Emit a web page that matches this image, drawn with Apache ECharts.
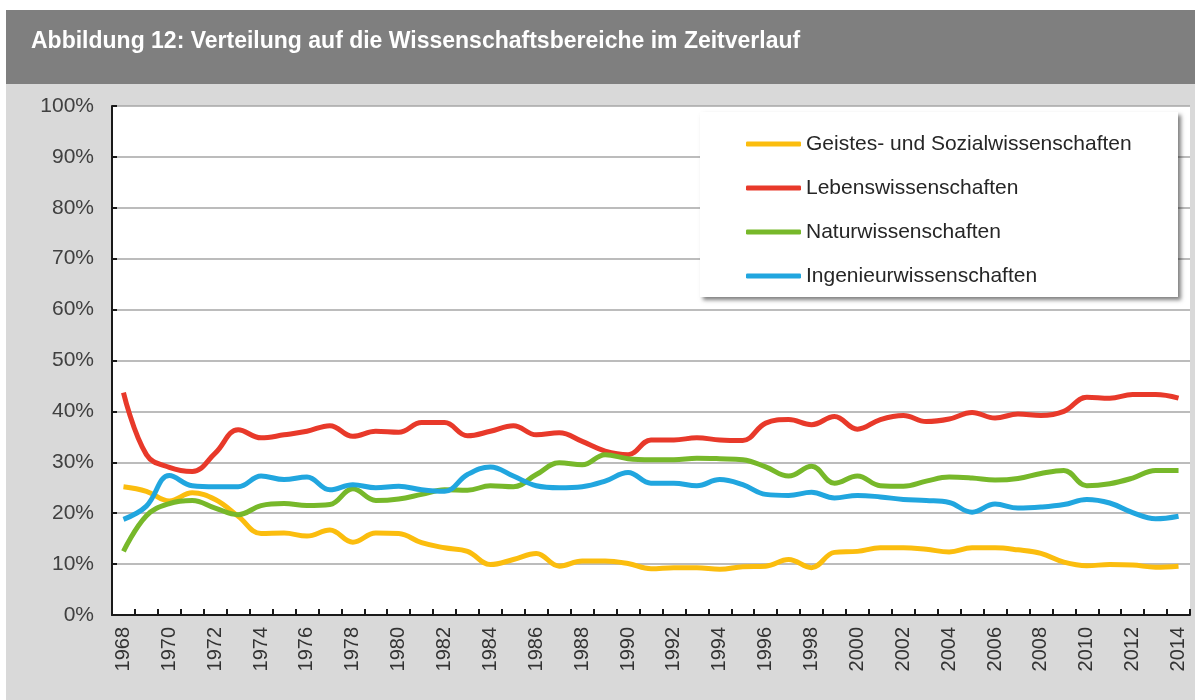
<!DOCTYPE html>
<html>
<head>
<meta charset="utf-8">
<script src="https://cdn.jsdelivr.net/npm/echarts@6/dist/echarts.min.js"></script>
<style>
html,body{margin:0;padding:0;background:#ffffff;}
#chart{width:1195px;height:700px;}
</style>
</head>
<body>
<div id="chart"></div>
<script>
const years = [];
for (let y = 1968; y <= 2014; y++) years.push(String(y));

const seriesNames = [
  'Geistes- und Sozialwissenschaften',
  'Lebenswissenschaften',
  'Naturwissenschaften',
  'Ingenieurwissenschaften'
];

const geistes = [25.2, 24.3, 22.4, 24.0, 22.7, 19.4, 16.0, 16.1, 15.5, 16.7, 14.3, 16.1,
  16.0, 14.2, 13.2, 12.5, 9.9, 10.9, 12.1, 9.6, 10.6, 10.6, 10.1, 9.1,
  9.3, 9.3, 9.0, 9.5, 9.6, 10.9, 9.3, 12.3, 12.5, 13.2, 13.2,
  12.9, 12.4, 13.2, 13.2, 12.8, 12.1, 10.4, 9.7, 9.9, 9.8, 9.4, 9.6];

const lebens = [43.7, 31.5, 29.0, 28.2, 31.8, 36.4, 34.8, 35.4, 36.1, 37.2, 35.1, 36.1,
  35.9, 37.8, 37.8, 35.2, 36.1, 37.2, 35.4, 35.8, 34.1, 32.2, 31.5, 34.4,
  34.4, 34.8, 34.4, 34.3, 37.7, 38.4, 37.4, 39.0, 36.5, 38.4, 39.2,
  38.0, 38.5, 39.8, 38.7, 39.5, 39.2, 40.0, 42.8, 42.6, 43.3, 43.3, 42.6];

const natur = [12.5, 19.5, 21.9, 22.5, 21.0, 19.7, 21.5, 21.9, 21.5, 21.7, 24.8, 22.5,
  22.8, 23.7, 24.6, 24.5, 25.4, 25.2, 27.6, 29.9, 29.5, 31.5, 30.7, 30.5,
  30.5, 30.8, 30.7, 30.5, 29.1, 27.3, 29.2, 25.9, 27.3, 25.4, 25.3,
  26.3, 27.1, 26.9, 26.5, 26.8, 27.8, 28.4, 25.4, 25.8, 26.9, 28.4, 28.4];

const ingenieur = [18.8, 21.4, 27.4, 25.4, 25.2, 25.2, 27.3, 26.6, 27.1, 24.6, 25.6, 25.0,
  25.3, 24.6, 24.3, 27.6, 29.1, 27.3, 25.4, 25.0, 25.2, 26.3, 28.0, 25.9,
  25.9, 25.4, 26.6, 25.6, 23.7, 23.5, 24.1, 23.0, 23.5, 23.2, 22.7,
  22.5, 22.1, 20.2, 21.8, 21.0, 21.2, 21.7, 22.7, 22.0, 20.1, 18.9, 19.4];

const colors = ['#fbbd0e', '#e8392a', '#77b82a', '#21a6df'];
const FONT = "'Liberation Sans', Arial, sans-serif";

const chart = echarts.init(document.getElementById('chart'), null, {renderer: 'canvas'});

const dataSets = [geistes, lebens, natur, ingenieur];

chart.setOption({
  animation: false,
  backgroundColor: '#ffffff',
  title: {
    text: 'Abbildung 12: Verteilung auf die Wissenschaftsbereiche im Zeitverlauf',
    left: 26,
    top: 25,
    textStyle: {color: '#ffffff', fontSize: 23, fontWeight: 'bold', fontFamily: FONT}
  },
  graphic: [
    {type: 'rect', z: -10, shape: {x: 6, y: 10, width: 1189, height: 74}, style: {fill: '#7f7f7f'}},
    {type: 'rect', z: -10, shape: {x: 6, y: 84, width: 1189, height: 616}, style: {fill: '#d9d9d9'}},
    {type: 'rect', z: 10, shape: {x: 700, y: 112, width: 478, height: 185},
      style: {fill: '#ffffff', shadowBlur: 4, shadowOffsetX: 3, shadowOffsetY: 3, shadowColor: 'rgba(0,0,0,0.5)'}}
  ],
  color: colors,
  legend: {
    z: 20,
    orient: 'vertical',
    left: 741,
    top: 128,
    itemWidth: 55,
    itemHeight: 5,
    itemGap: 22,
    icon: 'roundRect',
    textStyle: {fontSize: 21, lineHeight: 22, color: '#262626', fontFamily: FONT},
    data: seriesNames
  },
  grid: {
    left: 112, right: 5, top: 106, bottom: 85,
    show: true, backgroundColor: '#ffffff', borderWidth: 0
  },
  xAxis: {
    type: 'category',
    data: years,
    boundaryGap: true,
    axisLine: {lineStyle: {color: '#1a1a1a', width: 2}},
    axisTick: {show: true, inside: true, length: 6, interval: 0, lineStyle: {color: '#1a1a1a', width: 2}},
    axisLabel: {interval: 1, rotate: 90, margin: 12, fontSize: 20, color: '#333333', fontFamily: FONT},
    splitLine: {show: false}
  },
  yAxis: {
    type: 'value',
    min: 0, max: 100, interval: 10,
    axisLine: {show: true, lineStyle: {color: '#1a1a1a', width: 2}},
    axisTick: {show: true, inside: true, length: 5, lineStyle: {color: '#1a1a1a', width: 2}},
    axisLabel: {formatter: '{value}%', margin: 18, fontSize: 21, color: '#404040', fontFamily: FONT},
    splitLine: {show: true, lineStyle: {color: '#a6a6a6', width: 1.5}}
  },
  series: seriesNames.map((n, k) => ({
    name: n,
    type: 'line',
    data: dataSets[k],
    smooth: 0.4,
    showSymbol: false,
    symbol: 'none',
    lineStyle: {width: 5, color: colors[k]},
    itemStyle: {color: colors[k]},
    z: 2 + k
  }))
});
</script>
</body>
</html>
